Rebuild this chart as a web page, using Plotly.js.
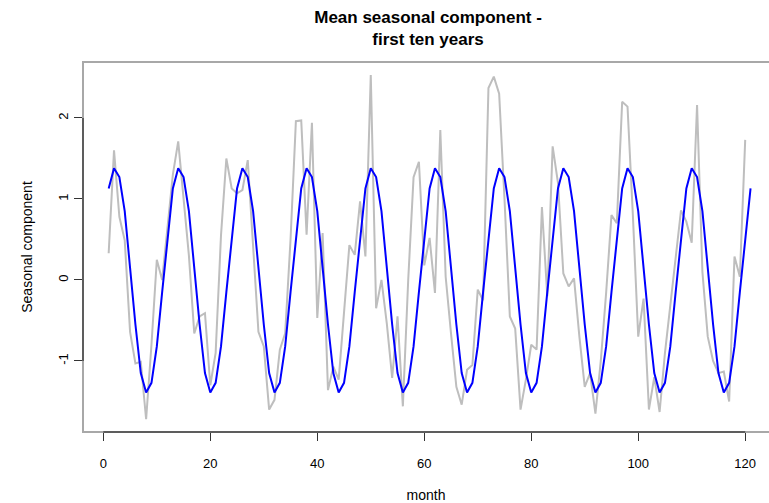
<!DOCTYPE html>
<html>
<head>
<meta charset="utf-8">
<script src="https://cdn.plot.ly/plotly-3.0.1.min.js"></script>
<style>html,body{margin:0;padding:0;background:#fff;}#chart{width:769px;height:503px;}</style>
</head>
<body>
<div id="chart"></div>
<script>
// month index for the raw seasonal values (gray) and the mean seasonal component (blue)
var monthsRaw = [];
for (var i = 1; i <= 120; i++) monthsRaw.push(i);
var monthsMean = [];
for (var j = 1; j <= 121; j++) monthsMean.push(j);

var rawSeasonal = [
  0.33, 1.60, 0.78, 0.49, -0.64, -1.03, -1.01, -1.72, -0.80, 0.25, 0.00, 0.65,
  1.30, 1.71, 1.03, 0.30, -0.66, -0.45, -0.41, -1.30, -0.90, 0.55, 1.50, 1.13,
  1.07, 1.11, 1.48, 0.44, -0.64, -0.82, -1.60, -1.48, -0.86, -0.66, 0.50, 1.96,
  1.97, 0.56, 1.94, -0.47, 0.58, -1.36, -1.07, -1.23, -0.40, 0.43, 0.31, 0.97,
  0.29, 2.53, -0.35, 0.00, -0.54, -1.21, -0.45, -1.56, 0.00, 1.27, 1.46, 0.18,
  0.52, -0.16, 1.85, 0.04, -0.66, -1.32, -1.54, -1.11, -1.05, -0.12, -0.25, 2.37,
  2.51, 2.30, 1.00, -0.45, -0.60, -1.60, -1.23, -0.80, -0.86, 0.90, -0.20, 1.65,
  1.20, 0.08, -0.08, 0.02, -0.70, -1.32, -1.15, -1.65, -1.00, -0.16, 0.80, 0.70,
  2.20, 2.14, 0.80, -0.70, -0.23, -1.60, -1.20, -1.63, -0.90, -0.30, 0.30, 0.86,
  0.72, 0.46, 2.16, 0.10, -0.70, -1.00, -1.15, -1.13, -1.50, 0.29, 0.04, 1.73
];

var meanSeasonal = [
  1.13, 1.38, 1.27, 0.85, 0.15, -0.55, -1.15, -1.39, -1.27, -0.82, -0.15, 0.52,
  1.13, 1.38, 1.27, 0.85, 0.15, -0.55, -1.15, -1.39, -1.27, -0.82, -0.15, 0.52,
  1.13, 1.38, 1.27, 0.85, 0.15, -0.55, -1.15, -1.39, -1.27, -0.82, -0.15, 0.52,
  1.13, 1.38, 1.27, 0.85, 0.15, -0.55, -1.15, -1.39, -1.27, -0.82, -0.15, 0.52,
  1.13, 1.38, 1.27, 0.85, 0.15, -0.55, -1.15, -1.39, -1.27, -0.82, -0.15, 0.52,
  1.13, 1.38, 1.27, 0.85, 0.15, -0.55, -1.15, -1.39, -1.27, -0.82, -0.15, 0.52,
  1.13, 1.38, 1.27, 0.85, 0.15, -0.55, -1.15, -1.39, -1.27, -0.82, -0.15, 0.52,
  1.13, 1.38, 1.27, 0.85, 0.15, -0.55, -1.15, -1.39, -1.27, -0.82, -0.15, 0.52,
  1.13, 1.38, 1.27, 0.85, 0.15, -0.55, -1.15, -1.39, -1.27, -0.82, -0.15, 0.52,
  1.13, 1.38, 1.27, 0.85, 0.15, -0.55, -1.15, -1.39, -1.27, -0.82, -0.15, 0.52,
  1.13
];

var xTicks = [0, 20, 40, 60, 80, 100, 120];
var yTicks = [-1, 0, 1, 2];

var FONT = '"Liberation Sans", Arial, sans-serif';

var traces = [
  {x: monthsRaw, y: rawSeasonal, type: 'scatter', mode: 'lines',
   line: {color: '#bebebe', width: 2}, hoverinfo: 'skip'},
  {x: monthsMean, y: meanSeasonal, type: 'scatter', mode: 'lines',
   line: {color: '#0000ff', width: 2}, hoverinfo: 'skip'}
];

var layout = {
  width: 769, height: 503,
  margin: {l: 83, r: 0, t: 62, b: 71},
  paper_bgcolor: '#ffffff', plot_bgcolor: '#ffffff',
  showlegend: false,
  font: {family: FONT, size: 13, color: '#000'},
  title: {
    text: '<b>Mean seasonal component -<br>first ten years</b>',
    font: {family: FONT, size: 17, color: '#000'},
    x: 0.503, xref: 'paper', xanchor: 'center',
    y: 0.955, yref: 'container', yanchor: 'top'
  },
  xaxis: {
    range: [-3.8, 124.45], showgrid: false, zeroline: false, showline: false,
    tickmode: 'array', tickvals: xTicks, ticktext: xTicks.map(String),
    ticks: 'outside', ticklen: 8, tickcolor: '#333', tickwidth: 1,
    ticklabelstandoff: 11,
    tickfont: {family: FONT, size: 13, color: '#000'},
    title: {text: 'month', font: {family: FONT, size: 14, color: '#000'}, standoff: 20}
  },
  yaxis: {
    range: [-1.877, 2.691], showgrid: false, zeroline: false, showline: false,
    tickmode: 'array', tickvals: yTicks, ticktext: yTicks.map(String),
    ticks: 'outside', ticklen: 8, tickcolor: '#333', tickwidth: 1,
    tickangle: -90, ticklabelstandoff: 1,
    tickfont: {family: FONT, size: 13, color: '#000'},
    title: {text: 'Seasonal component', font: {family: FONT, size: 14, color: '#000'}, standoff: 19}
  },
  shapes: [
    {type: 'rect', xref: 'paper', yref: 'paper', x0: 0, x1: 1.05, y0: 0, y1: 1,
     line: {color: '#a8a8a8', width: 2}, layer: 'below'},
    {type: 'line', xref: 'x', yref: 'paper', x0: xTicks[0], x1: xTicks[xTicks.length - 1], y0: 0, y1: 0,
     line: {color: '#444', width: 1.5}},
    {type: 'line', xref: 'paper', yref: 'y', x0: 0, x1: 0, y0: yTicks[0], y1: yTicks[yTicks.length - 1],
     line: {color: '#444', width: 1.5}}
  ]
};

Plotly.newPlot('chart', traces, layout, {displayModeBar: false, staticPlot: true});
</script>
</body>
</html>
